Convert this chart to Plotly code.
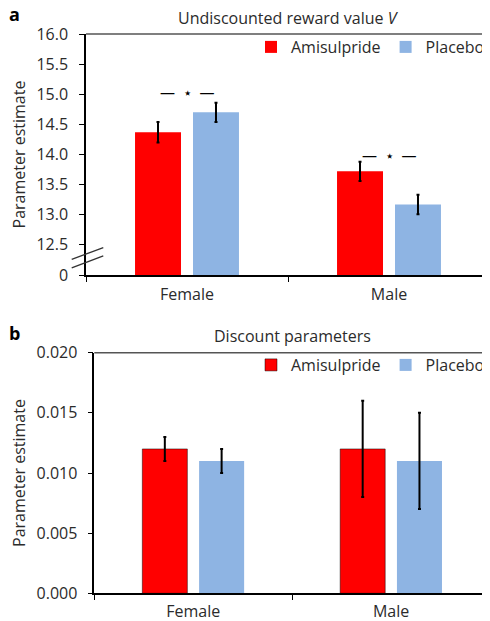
import plotly.graph_objects as go

# ---- data ----
groups = ["Female", "Male"]
series_names = ["Amisulpride", "Placebo"]
colors = ["#FF0000", "#8EB4E3"]

# Panel a: undiscounted reward value V
v_amisulpride = [14.37, 13.72]
v_amisulpride_err = [0.17, 0.16]
v_placebo = [14.70, 13.17]
v_placebo_err = [0.16, 0.16]
a_tickvals = [12.0, 12.5, 13.0, 13.5, 14.0, 14.5, 15.0, 15.5, 16.0]
a_ticktext = ["0", "12.5", "13.0", "13.5", "14.0", "14.5", "15.0", "15.5", "16.0"]
a_sig_y = [15.04, 14.0]

# Panel b: discount parameters
k_amisulpride = [0.012, 0.012]
k_amisulpride_err = [0.001, 0.004]
k_placebo = [0.011, 0.011]
k_placebo_err = [0.001, 0.004]
b_tickvals = [0.0, 0.005, 0.010, 0.015, 0.020]
b_ticktext = ["0.000", "0.005", "0.010", "0.015", "0.020"]

FONT = "Open Sans"
TXT = "#2b2b2b"
W, H = 482, 613  # page adds an 8px body margin


def px(xr):
    return (xr - 8) / W


def py(yr):
    return 1 - (yr - 8) / H


fig = go.Figure()

for name, vals, errs, col in [(series_names[0], v_amisulpride, v_amisulpride_err, colors[0]),
                              (series_names[1], v_placebo, v_placebo_err, colors[1])]:
    fig.add_trace(go.Bar(
        x=groups, y=vals, name=name, marker=dict(color=col, line=dict(width=0)),
        error_y=dict(type="data", array=errs, color="black", thickness=2, width=1.5),
        xaxis="x", yaxis="y", legend="legend"))

for name, vals, errs, col, lw in [(series_names[0], k_amisulpride, k_amisulpride_err, colors[0], 0.8),
                                  (series_names[1], k_placebo, k_placebo_err, colors[1], 0)]:
    fig.add_trace(go.Bar(
        x=groups, y=vals, name=name,
        marker=dict(color=col, line=dict(width=lw, color="rgba(0,0,0,0.6)")),
        error_y=dict(type="data", array=errs, color="black", thickness=2, width=1.5),
        xaxis="x2", yaxis="y2", legend="legend2"))

axis_common = dict(showgrid=False, zeroline=False, showline=True, linecolor="black", linewidth=1.5,
                   ticks="outside", ticklen=5, tickcolor="black", tickwidth=1.2, automargin=False,
                   tickfont=dict(family=FONT, size=16, color=TXT))
ytitle = dict(text="Parameter estimate", font=dict(family=FONT, size=16, color=TXT), standoff=10)

fig.update_layout(
    width=W, height=H,
    margin=dict(l=0, r=0, t=0, b=0),
    paper_bgcolor="white", plot_bgcolor="white",
    bargap=0.426, bargroupgap=0.207,
    showlegend=True,
    xaxis=dict(domain=[px(86), 1.0], anchor="y", type="category", tickson="boundaries",
               ticklabelstandoff=4, **axis_common),
    yaxis=dict(domain=[py(275), py(34)], anchor="x", range=[12.0, 16.0],
               tickvals=a_tickvals, ticktext=a_ticktext, ticklabelstandoff=8,
               title=ytitle, **axis_common),
    xaxis2=dict(domain=[px(94.3), 1.0], anchor="y2", type="category", tickson="boundaries",
                ticklabelstandoff=3, **axis_common),
    yaxis2=dict(domain=[py(593.3), py(352.7)], anchor="x2", range=[0, 0.020],
                tickvals=b_tickvals, ticktext=b_ticktext, ticklabelstandoff=7,
                title=ytitle, **axis_common),
    legend=dict(orientation="h", x=1.0, xanchor="right", y=py(47), yanchor="middle",
                bgcolor="rgba(0,0,0,0)", font=dict(family=FONT, size=16, color=TXT),
                itemwidth=30, tracegroupgap=0),
    legend2=dict(orientation="h", x=1.0, xanchor="right", y=py(365), yanchor="middle",
                 bgcolor="rgba(0,0,0,0)", font=dict(family=FONT, size=16, color=TXT),
                 itemwidth=30, tracegroupgap=0),
)

for xr, yr in [("x domain", "y domain"), ("x2 domain", "y2 domain")]:
    fig.add_shape(type="line", xref=xr, yref=yr, x0=0, x1=1, y0=1, y1=1,
                  line=dict(color="#555555", width=1.5))

# axis break marks on panel a
for y0, y1 in [(12.26, 12.455), (12.12, 12.317)]:
    fig.add_shape(type="line", xref="paper", yref="y", x0=px(71.7), x1=px(103.3), y0=y0, y1=y1,
                  line=dict(color="#333333", width=1.3))

fig.add_annotation(text="Undiscounted reward value <i>V</i>", xref="x domain", yref="paper",
                   x=0.5, y=py(18), showarrow=False, yanchor="middle",
                   font=dict(family=FONT, size=16, color=TXT))
fig.add_annotation(text="Discount parameters", xref="x2 domain", yref="paper",
                   x=0.5, y=py(336), showarrow=False, yanchor="middle",
                   font=dict(family=FONT, size=16, color=TXT))

fig.add_annotation(text="<b>a</b>", xref="paper", yref="paper", x=px(14), y=py(14),
                   xanchor="center", yanchor="middle", showarrow=False,
                   font=dict(family=FONT, size=18, color="black"))
fig.add_annotation(text="<b>b</b>", xref="paper", yref="paper", x=px(14), y=py(333),
                   xanchor="center", yanchor="middle", showarrow=False,
                   font=dict(family=FONT, size=18, color="black"))

for g, yv in zip(groups, a_sig_y):
    fig.add_annotation(text="—  ⋆  —", x=g, y=yv, xref="x", yref="y", showarrow=False,
                       yanchor="middle", font=dict(family=FONT, size=15, color="black"))

fig.write_html("out.html")
